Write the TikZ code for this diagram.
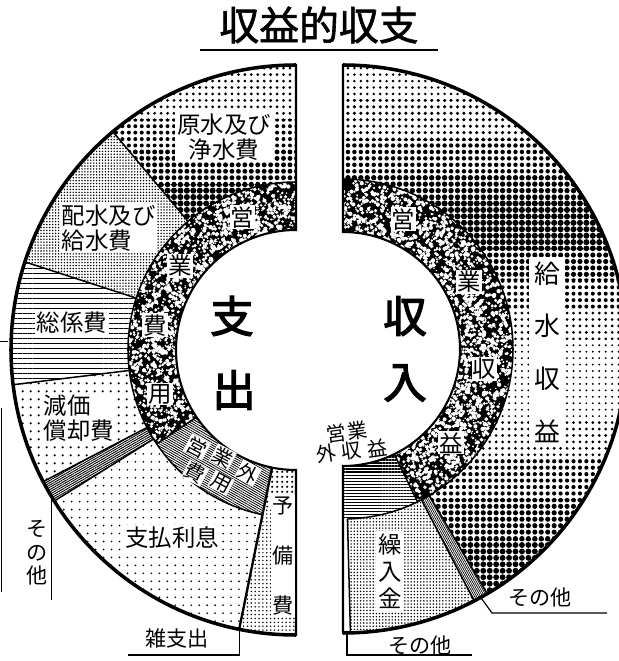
\documentclass[tikz,border=0pt]{standalone}
\usepackage{fontspec}
\newfontfamily\jp{Noto Sans CJK JP}
\newfontfamily\jpheavy[FakeBold=3]{Noto Sans CJK JP}
\newfontfamily\jptitle[FakeBold=1.5]{Noto Sans CJK JP}
\usetikzlibrary{patterns.meta}

% one sector of a ring: [style]{centre}{inner r}{outer r}{from}{to}
\newcommand{\ringpart}[6][]{%
  \path[#1] ([shift={(#2)}]#5:#4) arc[start angle=#5, end angle=#6, radius=#4]
    -- ([shift={(#2)}]#6:#3) arc[start angle=#6, end angle=#5, radius=#3] -- cycle}

\begin{document}
\begin{tikzpicture}[
    x=0.03cm, y=0.03cm,
    seg/.style={line width=1.3pt},
    rim/.style={line width=3pt},
    lead/.style={line width=1pt},
    lbl/.style={font=\jp\fontsize{20}{21}\selectfont, fill=white, inner sep=1.5pt, align=center},
    ringch/.style={font=\jp\fontsize{20}{20}\selectfont, fill=white, inner sep=1pt},
    sm/.style={font=\jp\fontsize{18}{20}\selectfont, inner sep=1pt, align=center},
    tilt/.style={font=\jp\fontsize{17}{17}\selectfont, inner sep=0.5pt},
    big/.style={font=\jpheavy\fontsize{37}{37}\selectfont, inner sep=0pt}
  ]
  \useasboundingbox (0,0) rectangle (619,661);
  \coordinate (L) at (296,311);
  \coordinate (R) at (343,312);

  % ---- left half: expenses ----
  % raw water and purification: screen gets darker downwards
  \begin{scope}
    \ringpart[clip]{L}{168}{285}{90}{130};
    \foreach \ya/\yb/\d in {541/601/1.3, 511/541/1.7, 476/511/2.1, 420/476/2.6}
      \path[pattern={Dots[radius=\d pt, distance=5.5pt]}] (0,\ya) rectangle (300,\yb);
  \end{scope}
  \ringpart[pattern={Dots[radius=0.7pt, distance=2.5pt]}]{L}{168}{285}{130}{162};
  \ringpart[pattern={Lines[distance=4.3pt, line width=0.7pt]}]{L}{168}{285}{162}{187};
  \ringpart[pattern={Dots[radius=1.1pt, distance=6.5pt]}]{L}{168}{285}{187}{207.5};
  \ringpart[pattern={Lines[distance=1.7pt, angle=30, line width=0.8pt]}]{L}{168}{285}{207.5}{212};
  \ringpart[pattern={Dots[radius=0.8pt, distance=6.8pt]}]{L}{168}{285}{212}{258.5};
  \ringpart[pattern={Dots[radius=1.1pt, distance=4pt]}]{L}{120}{160}{258.5}{270};
  \ringpart[pattern={Dots[radius=0.7pt, distance=3.3pt]}]{L}{160}{285}{258.5}{270};
  \ringpart[pattern={Lines[distance=1.8pt, angle=-30, line width=0.7pt]}]{L}{120}{168}{214}{258.5};
  % operating expenses ring, mottled
  \pgfmathsetseed{7}
  \begin{scope}
    \ringpart[clip]{L}{120}{168}{90}{214};
    \ringpart[fill=black]{L}{120}{168}{90}{214};
    \foreach \k in {1,...,1800} {
      \pgfmathsetmacro\ang{88+128*rnd}
      \pgfmathsetmacro\rr{118+52*rnd}
      \pgfmathsetmacro\ss{0.7+1.5*rnd}
      \fill[white] ([shift={(L)}]\ang:\rr) circle[radius=\ss];
    }
  \end{scope}

  % ---- right half: income ----
  % water sales: screen dark high up, light in the middle, dark again low down
  \begin{scope}
    \ringpart[clip]{R}{170}{284}{90}{-59.5};
    \foreach \ya/\yb/\d in {561/601/1.2, 521/561/1.5, 486/521/1.9, 461/486/2.3,
        411/461/2.6, 381/411/2.2, 351/381/1.7, 321/351/1.3, 241/321/0.9,
        201/241/1.3, 161/201/1.8, 121/161/2.2, 30/121/2.5}
      \path[pattern={Dots[radius=\d pt, distance=5.5pt]}] (340,\ya) rectangle (640,\yb);
  \end{scope}
  \ringpart[pattern={Lines[distance=1.5pt, angle=-61, line width=0.6pt]}]{R}{170}{284}{-59.5}{-62.5};
  \ringpart[pattern={Dots[radius=0.7pt, distance=2.7pt]}]{R}{170}{284}{-62.5}{-88.5};
  \ringpart[pattern={Lines[distance=2.6pt, line width=1.1pt]}]{R}{117}{170}{-64}{-90};
  % operating income ring, mottled
  \begin{scope}
    \ringpart[clip]{R}{117}{170}{90}{-64};
    \ringpart[fill=black]{R}{117}{170}{90}{-64};
    \foreach \k in {1,...,2300} {
      \pgfmathsetmacro\ang{92-158*rnd}
      \pgfmathsetmacro\rr{115+57*rnd}
      \pgfmathsetmacro\ss{0.7+1.5*rnd}
      \fill[white] ([shift={(R)}]\ang:\rr) circle[radius=\ss];
    }
  \end{scope}

  % outlines
  \ringpart[draw, line width=1.8pt]{L}{120}{285}{90}{270};
  \draw[rim] ([shift={(L)}]90:285) arc[start angle=90, end angle=270, radius=285];
  \draw[seg] ([shift={(L)}]90:168) arc[start angle=90, end angle=258.5, radius=168];
  \foreach \a in {130,162,187,207.5,212}
    \draw[seg] ([shift={(L)}]\a:168) -- ([shift={(L)}]\a:285);
  \draw[seg] ([shift={(L)}]214:120) -- ([shift={(L)}]214:168);
  \draw[line width=2pt] ([shift={(L)}]258.5:120) -- ([shift={(L)}]258.5:285);

  \ringpart[draw, line width=1.8pt]{R}{117}{284}{90}{-90};
  \draw[rim] ([shift={(R)}]90:284) arc[start angle=90, end angle=-90, radius=284];
  \draw[seg] ([shift={(R)}]90:170) arc[start angle=90, end angle=-88.5, radius=170];
  \foreach \a in {-59.5,-62.5,-88.5}
    \draw[seg] ([shift={(R)}]\a:170) -- ([shift={(R)}]\a:284);
  \draw[seg] ([shift={(R)}]-64:117) -- ([shift={(R)}]-64:170);

  % title
  \node[font=\jptitle\fontsize{34}{34}\selectfont, inner sep=0pt] (title) at (319,636) {収益的収支};
  \coordinate (ulA) at (200,611);
  \coordinate (ulB) at (438,611);
  \draw[line width=1.8pt] (ulA) -- (ulB);

  % centre words
  \node[big] (shi) at (232,345) {支};
  \node[big] (shutsu) at (234,271) {出};
  \node[big] (shu) at (405,345) {収};
  \node[big] (nyu) at (405,278) {入};

  % segment labels
  \node[lbl] (genSui) at (224,524) {原水及び\\浄水費};
  \node[lbl, align=left, anchor=west] (haiSui) at (60,433) {配水及び\\給水費};
  \node[lbl] (soKei) at (72,338) {総係費};
  \node[lbl, align=left, anchor=west] (genka) at (42,243) {減価\\償却費};
  \node[lbl] (shiharai) at (172,123) {支払利息};
  \node[lbl, font=\jp\fontsize{18}{43}\selectfont, inner sep=1pt] (yobi) at (283,105) {予\\備\\費};
  \foreach \x/\y/\c [count=\i] in {197/214/営, 223/204/業, 248/188/外, 195/188/費, 221/178/用}
    \node[tilt, fill=white, rotate=-28] (eigaiH\i) at (\x,\y) {\c};
  \foreach \a/\c [count=\i] in {112/営, 144/業, 170/費, 198/用}
    \node[ringch] (opx\i) at ([shift={(L)}]\a:143) {\c};

  \node[lbl, font=\jp\fontsize{22}{45}\selectfont, inner sep=4pt] (kyuSui) at (547,309) {給\\水\\収\\益};
  \node[lbl, font=\jp\fontsize{20}{23}\selectfont, inner sep=2pt] (kuri) at (390,90) {繰\\入\\金};
  \foreach \x/\y/\c [count=\i] in {336/227/営, 357/230/業, 326/207/外, 351/210/収, 377/213/益}
    \node[tilt, rotate=8] (eigaiS\i) at (\x,\y) {\c};
  \foreach \a/\c [count=\i] in {65/営, 28/業, -8/収, -41/益}
    \node[ringch] (opr\i) at ([shift={(R)}]\a:143) {\c};

  % leaders to small items
  \coordinate (sonotaLa) at ([shift={(L)}]211:285);
  \coordinate (sonotaLb) at (52,61);
  \draw[lead] (sonotaLa) -- (sonotaLa |- sonotaLb);
  \node[sm, font=\jp\fontsize{18}{20}\selectfont] (sonotaL) at (37,108) {そ\\の\\他};

  \coordinate (zatsuA) at ([shift={(L)}]258.5:285);
  \coordinate (zatsuB) at (128,6);
  \draw[lead] (zatsuA) |- (zatsuB);
  \node[sm] (zatsu) at (177,23) {雑支出};

  \coordinate (sonotaRa) at ([shift={(R)}]-61:284);
  \coordinate (sonotaRb) at (492,48);
  \coordinate (sonotaRc) at (607,48);
  \draw[lead] (sonotaRa) -- (sonotaRb) -- (sonotaRc);
  \node[sm] (sonotaR) at (540,64) {その他};

  \coordinate (sonotaBa) at ([shift={(R)}]-89.2:284);
  \coordinate (sonotaBb) at (472,6);
  \draw[lead] (sonotaBa) |- (sonotaBb);
  \node[sm] (sonotaB) at (420,16) {その他};

  % marks at the left edge
  \draw[line width=0.8pt] (1.5,253) -- (1.5,69);
  \draw[line width=0.8pt] (0,320) -- (8,320);
\end{tikzpicture}
\end{document}
